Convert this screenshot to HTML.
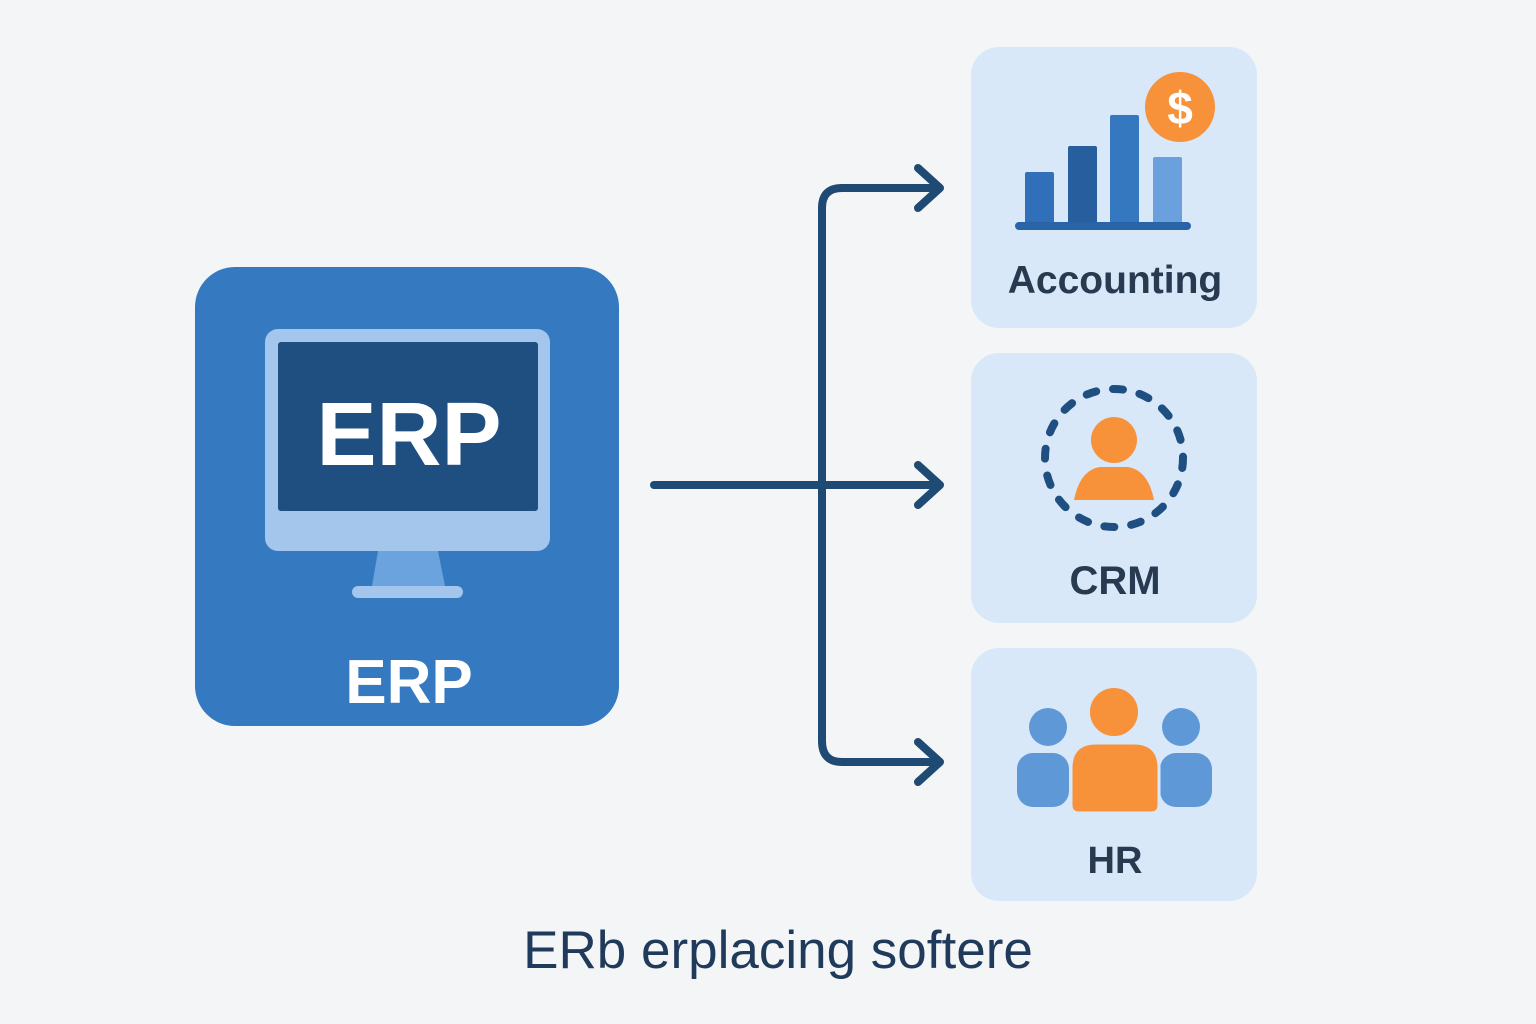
<!DOCTYPE html>
<html><head><meta charset="utf-8"><style>
html,body{margin:0;padding:0;background:#f3f5f6}
svg{display:block}
text{font-family:"Liberation Sans",sans-serif}
</style></head><body>
<svg width="1536" height="1024" viewBox="0 0 1536 1024" xmlns="http://www.w3.org/2000/svg">
<rect width="1536" height="1024" fill="#f3f5f6"/>
<rect x="195" y="267" width="424" height="459" rx="40" fill="#3579c0"/>
<rect x="265" y="329" width="285" height="222" rx="13" fill="#a4c6ec"/>
<rect x="278" y="342" width="260" height="169" rx="3" fill="#1f4f80"/>
<polygon points="378,551 438,551 445,586 372,586" fill="#6aa3de"/>
<rect x="352" y="586" width="111" height="12" rx="6" fill="#a4c6ec"/>
<text x="409" y="465" text-anchor="middle" font-size="90" font-weight="bold" fill="#fff">ERP</text>
<text x="409" y="703" text-anchor="middle" font-size="62" font-weight="bold" fill="#fff">ERP</text>
<g stroke="#1f4a73" stroke-width="8" fill="none" stroke-linecap="round" stroke-linejoin="round">
<line x1="654" y1="485" x2="938" y2="485"/>
<path d="M938,188 H842 Q822,188 822,208 V741 Q822,762 842,762 H938"/>
<polyline points="918,168 940,188 918,208"/>
<polyline points="918,465 940,485 918,505"/>
<polyline points="918,742 940,762 918,782"/>
</g>
<rect x="971" y="47" width="286" height="281" rx="28" fill="#d8e8f8"/>
<rect x="971" y="353" width="286" height="270" rx="28" fill="#d8e8f8"/>
<rect x="971" y="648" width="286" height="253" rx="28" fill="#d8e8f8"/>
<rect x="1025" y="172" width="29" height="52" rx="2" fill="#3070b8"/>
<rect x="1068" y="146" width="29" height="78" rx="2" fill="#275f9e"/>
<rect x="1110" y="115" width="29" height="109" rx="2" fill="#3578c0"/>
<rect x="1153" y="157" width="29" height="67" rx="2" fill="#6aa0dc"/>
<rect x="1015" y="222" width="176" height="8" rx="4" fill="#2a64a8"/>
<circle cx="1180" cy="107" r="35" fill="#f7923a"/>
<text x="1180" y="124" text-anchor="middle" font-size="46" font-weight="bold" fill="#fff">$</text>
<text x="1115" y="293" text-anchor="middle" font-size="39" font-weight="bold" fill="#273a4f">Accounting</text>
<circle cx="1114" cy="458" r="69" fill="none" stroke="#1f4f80" stroke-width="8" stroke-linecap="round" stroke-dasharray="10 17"/>
<circle cx="1114" cy="440" r="23" fill="#f7923a"/>
<path d="M1074,500 Q1080,470 1100,467 H1128 Q1148,470 1154,500 Z" fill="#f7923a"/>
<text x="1115" y="594" text-anchor="middle" font-size="40" font-weight="bold" fill="#273a4f">CRM</text>
<circle cx="1048" cy="727" r="19" fill="#5f98d6"/>
<circle cx="1181" cy="727" r="19" fill="#5f98d6"/>
<rect x="1017" y="753" width="52" height="54" rx="16" fill="#5f98d6"/>
<rect x="1160" y="753" width="52" height="54" rx="16" fill="#5f98d6"/>
<circle cx="1114" cy="712" r="25" fill="#f7923a" stroke="#d8e8f8" stroke-width="2"/>
<path d="M1071,813 V768 Q1071,743 1096,743 H1134 Q1159,743 1159,768 V805 Q1159,813 1151,813 H1079 Q1071,813 1071,805 Z" fill="#f7923a" stroke="#d8e8f8" stroke-width="3"/>
<text x="1115" y="873" text-anchor="middle" font-size="38" font-weight="bold" fill="#273a4f">HR</text>
<text x="778" y="968" text-anchor="middle" font-size="53" fill="#1f3a5a">ERb erplacing softere</text>
</svg>
</body></html>
